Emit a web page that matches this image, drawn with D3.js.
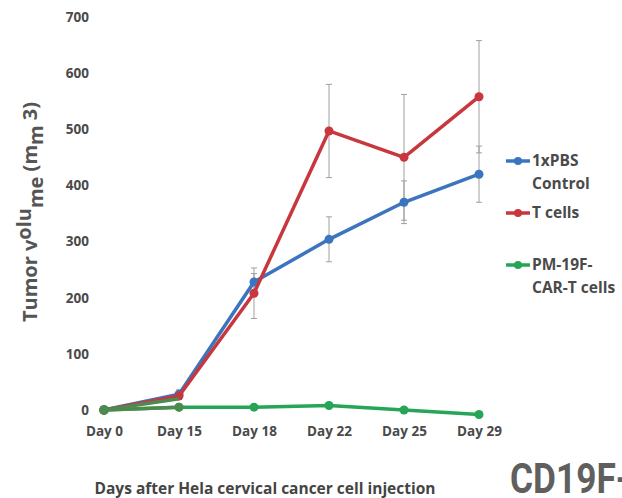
<!DOCTYPE html>
<html>
<head>
<meta charset="utf-8">
<script src="https://cdn.jsdelivr.net/npm/d3@7"></script>
<style>
  body { margin: 0; background: #fff; }
  text { font-family: "Open Sans", sans-serif; }
</style>
</head>
<body>
<div id="chart"></div>
<script>
// Data
const days = ["Day 0", "Day 15", "Day 18", "Day 22", "Day 25", "Day 29"];
const pbs = [0, 28, 228, 304, 370, 420];
const pbsErr = [0, 8, 15, 40, 38, 50];
const tcells = [0, 25, 208, 497, 450, 558];
const tcellsErr = [0, 6, 45, 83, 112, 100];
const car = [0, 5, 5, 8, 0, -8];
const yTicks = [0, 100, 200, 300, 400, 500, 600, 700];

const W = 622, H = 498;
const svg = d3.select("#chart").append("svg")
    .attr("width", W).attr("height", H);

const x = d3.scalePoint().domain(days).range([104, 479]);
const y = d3.scaleLinear().domain([0, 700]).range([410, 17]);

// y tick labels (no axis line)
svg.append("g")
    .attr("transform", "translate(89,0)")
    .call(d3.axisLeft(y).tickValues(yTicks).tickSize(0).tickPadding(0))
    .call(g => g.select(".domain").remove())
    .selectAll("text")
    .style("font-size", "13.5px").style("font-weight", "bold")
    .style("font-family", "Open Sans").attr("fill", "#4a4a4a");

// x tick labels
svg.append("g")
    .attr("transform", "translate(0,426)")
    .call(d3.axisBottom(x).tickSize(0).tickPadding(0))
    .call(g => g.select(".domain").remove())
    .selectAll("text")
    .style("font-size", "13.5px").style("font-weight", "bold")
    .style("font-family", "Open Sans").attr("fill", "#4a4a4a");

const series = [
  { name: "T cells", vals: tcells, err: tcellsErr, color: "#c8373e" },
  { name: "PBS", vals: pbs, err: pbsErr, color: "#3b74bf" },
  { name: "CAR", vals: car, err: null, color: "#26a556" }
];

// error bars
series.filter(s => s.err).forEach(s => {
  const eb = svg.append("g").attr("stroke", "#a0a0a0").attr("stroke-width", 1);
  days.forEach((d, i) => {
    if (!s.err[i]) return;
    const cx = x(d), top = y(s.vals[i] + s.err[i]), bot = y(s.vals[i] - s.err[i]);
    eb.append("line").attr("x1", cx).attr("x2", cx).attr("y1", top).attr("y2", bot);
    eb.append("line").attr("x1", cx - 3).attr("x2", cx + 3).attr("y1", top).attr("y2", top);
    eb.append("line").attr("x1", cx - 3).attr("x2", cx + 3).attr("y1", bot).attr("y2", bot);
  });
});

const line = d3.line().x((d, i) => x(days[i])).y(d => y(d));

// lines and markers (blue drawn first, red over it)
[series[1], series[0], series[2]].forEach(s => {
  svg.append("path").datum(s.vals)
      .attr("fill", "none").attr("stroke", s.color)
      .attr("stroke-width", 3.5).attr("stroke-linejoin", "round")
      .attr("d", line);
  svg.selectAll(null).data(s.vals).enter().append("circle")
      .attr("cx", (d, i) => x(days[i])).attr("cy", d => y(d))
      .attr("r", 4.5).attr("fill", s.color);
});

// dark green overlap near the start
svg.append("path").datum([0, 20])
    .attr("fill", "none").attr("stroke", "#4e8a50").attr("stroke-width", 3.5)
    .attr("d", line);
svg.append("path").datum([0, 5])
    .attr("fill", "none").attr("stroke", "#4e8a50").attr("stroke-width", 3.5)
    .attr("d", line);
svg.append("circle").attr("cx", x(days[0])).attr("cy", y(0)).attr("r", 5).attr("fill", "#4e8a50");
svg.append("circle").attr("cx", x(days[1])).attr("cy", y(5)).attr("r", 4.5).attr("fill", "#4e8a50");

// legend
const legend = [
  { lines: ["1xPBS", "Control"], color: "#3b74bf", y: 161 },
  { lines: ["T cells"], color: "#c8373e", y: 213 },
  { lines: ["PM-19F-", "CAR-T cells"], color: "#26a556", y: 265 }
];
legend.forEach(l => {
  svg.append("line").attr("x1", 506).attr("x2", 530).attr("y1", l.y).attr("y2", l.y)
      .attr("stroke", l.color).attr("stroke-width", 3.5);
  svg.append("circle").attr("cx", 518).attr("cy", l.y).attr("r", 4).attr("fill", l.color);
  l.lines.forEach((t, k) => {
    svg.append("text").attr("x", 532).attr("y", l.y + 5 + k * 23)
        .style("font-size", "15.5px").style("font-weight", "bold")
        .attr("fill", "#4a4a4a").text(t);
  });
});

// y axis title with shifted pieces
const yt = svg.append("text")
    .attr("transform", "translate(37,212) rotate(-90)")
    .attr("text-anchor", "middle")
    .style("font-size", "20px").style("font-weight", "bold")
    .attr("fill", "#555");
yt.append("tspan").text("Tumor v");
yt.append("tspan").attr("dy", -6).text("olu");
yt.append("tspan").attr("dy", 12).text("me");
yt.append("tspan").attr("dy", -6).text(" (m");
yt.append("tspan").attr("dy", 6).text("m");
yt.append("tspan").attr("dy", -6).text(" 3)");

// x axis title
svg.append("text")
    .attr("x", 265).attr("y", 494).attr("text-anchor", "middle")
    .style("font-size", "15.5px").style("font-weight", "bold")
    .attr("fill", "#444")
    .text("Days after Hela cervical cancer cell injection");

// cropped panel label
svg.append("text")
    .attr("transform", "translate(510,493) scale(0.84,1)")
    .style("font-family", "Liberation Sans Narrow, Roboto, sans-serif")
    .style("font-size", "42px").style("font-weight", "bold")
    .attr("fill", "#5f5f5f")
    .text("CD19F-");
</script>
</body>
</html>
